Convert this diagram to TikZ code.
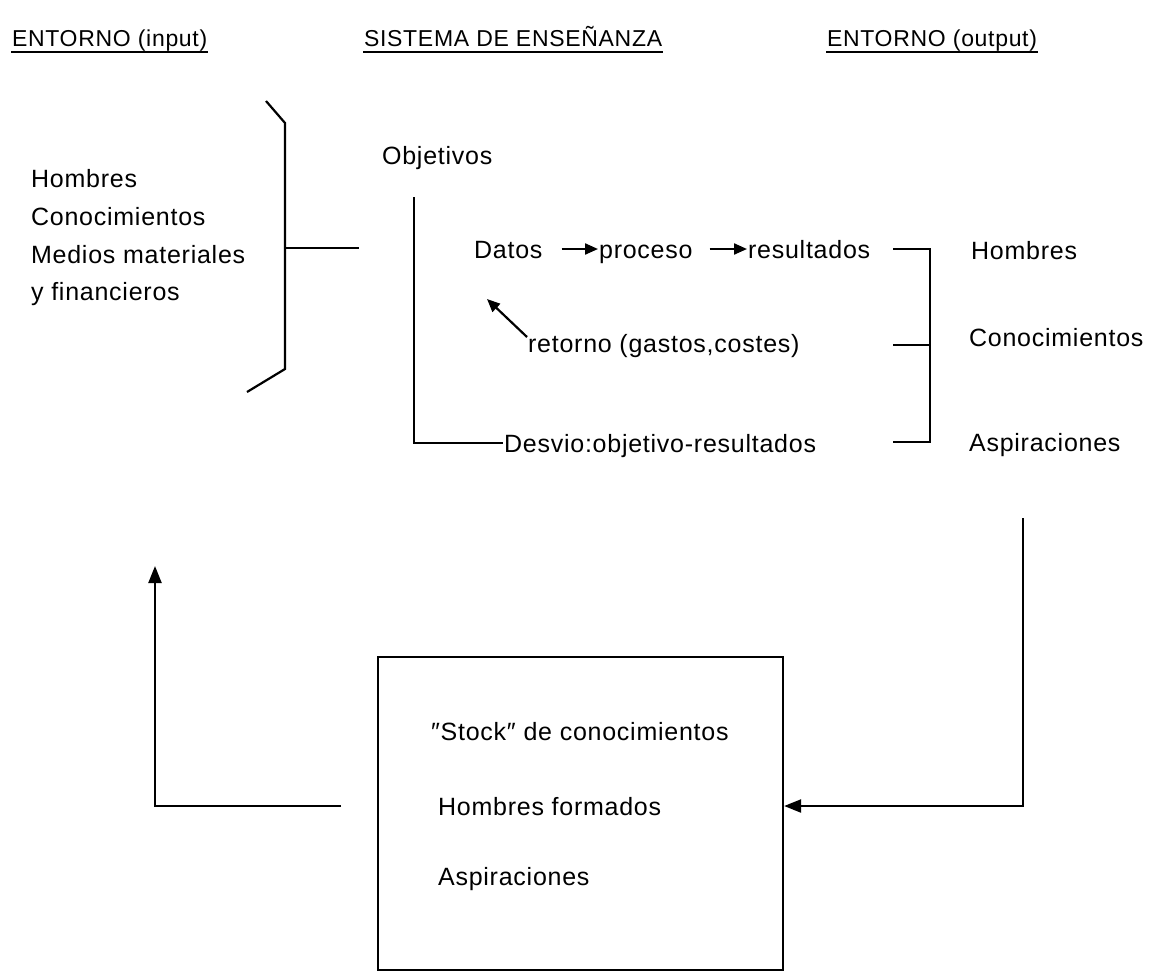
\documentclass[tikz,border=0pt]{standalone}
\usepackage{fontspec}
\setmainfont{Liberation Sans}[LetterSpace=3]
\usetikzlibrary{arrows.meta}

\begin{document}
\begin{tikzpicture}[x=1pt,y=-1pt,
    line width=2.2pt,
    every node/.style={inner sep=0pt,anchor=base west,
      font=\fontsize{25}{30}\selectfont},
    arr/.style={-{Triangle[length=17pt,width=13pt]}},
    smallarr/.style={-{Triangle[length=13pt,width=11pt]}},
    heading/.style={font=\fontsize{23}{28}\selectfont},
    uline/.style={line width=2.4pt}]
  \useasboundingbox (0,0) rectangle (1155,972);

  % headings
  \node[heading] (hin)  at (11,46)  {ENTORNO (input)};
  \node[heading] (hsys) at (363,46) {SISTEMA DE ENSEÑANZA};
  \node[heading] (hout) at (826,46) {ENTORNO (output)};
  \foreach \h in {hin,hsys,hout}
    \draw[uline] ([yshift=-6pt]\h.base west) -- ([yshift=-6pt]\h.base east);

  % input list
  \node (ihom) at (30,187) {Hombres};
  \node (icon) at (30,225) {Conocimientos};
  \node (imed) at (30,263) {Medios materiales};
  \node (ifin) at (30,300) {y financieros};

  % brace closing the input list
  \draw (266,101) -- (285,123) -- (285,369) -- (247,392);
  \coordinate (bmid) at (285,248);
  \coordinate (sysin) at (359,248);
  \draw (bmid) -- (sysin);

  % teaching system
  \node (obj) at (381,164) {Objetivos};
  \node (dat) at (473,258) {Datos};
  \node (pro) at (598,258) {proceso};
  \node (res) at (747,258) {resultados};
  \node (ret) at (527,352) {retorno (gastos,costes)};
  \node (des) at (503,452) {Desvio:objetivo-resultados};

  \draw[smallarr] ([xshift=18pt,yshift=9pt]dat.base east) -- ([yshift=9pt]pro.base west);
  \draw[smallarr] ([xshift=16pt,yshift=9pt]pro.base east) -- ([yshift=9pt]res.base west);
  \coordinate (rettip) at (487,299);
  \draw[smallarr] ([yshift=15pt]ret.base west) -- (rettip);

  \coordinate (objtop) at (414,197);
  \draw (objtop) |- ([yshift=9pt]des.base west);

  % output brace
  \coordinate (rb1) at (930,249);
  \coordinate (rb2) at (930,345);
  \coordinate (rb3) at (930,442);
  \draw ([xshift=22pt,yshift=9pt]res.base east) -- (rb1) -- (rb3) -- (893,442);
  \draw (893,345) -- (rb2);

  % output list
  \node (ohom) at (970,259) {Hombres};
  \node (ocon) at (968,346) {Conocimientos};
  \node (oasp) at (968,451) {Aspiraciones};

  % stock box
  \node[draw,anchor=center,minimum width=405pt,minimum height=313pt] (box)
    at (580.5,813.5) {};
  \node (sto) at (430,740) {″Stock″ de conocimientos};
  \node (hfo) at (437,815) {Hombres formados};
  \node (asp) at (437,885) {Aspiraciones};

  % feedback loop
  \coordinate (rc1) at (1023,518);
  \coordinate (rc2) at (1023,806);
  \draw[arr] (rc1) -- (rc2) -- (rc2 -| box.east);
  \coordinate (lc1) at (341,806);
  \coordinate (lc2) at (155,806);
  \coordinate (lc3) at (155,566);
  \draw[arr] (lc1) -- (lc2) -- (lc3);
\end{tikzpicture}
\end{document}
